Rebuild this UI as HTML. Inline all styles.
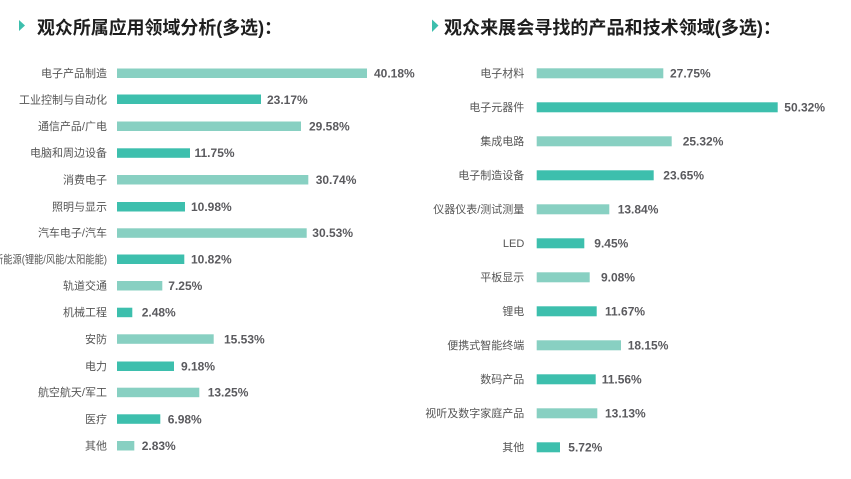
<!DOCTYPE html>
<html><head><meta charset="utf-8"><style>
html,body{margin:0;padding:0;background:#fff;}
svg{display:block;}
.t{font-family:"Liberation Sans","Noto Sans CJK SC",sans-serif;font-weight:bold;font-size:18px;fill:#1e1e1e;}
.l{font-family:"Liberation Sans","Noto Sans CJK SC",sans-serif;font-size:11px;fill:#555;}
.v{font-family:"Liberation Sans","Noto Sans CJK SC",sans-serif;font-size:12px;font-weight:bold;fill:#5a5a5e;}
.a{fill:#88d0c2;}
.b{fill:#3dbfad;}
</style></head><body>
<svg width="851" height="479" xmlns="http://www.w3.org/2000/svg">
<polygon points="19,20 25,25.5 19,31" fill="#3dbfad"/>
<text class="t" x="37" y="34" textLength="245" lengthAdjust="spacingAndGlyphs">观众所属应用领域分析(多选)：</text>
<polygon points="432,19.5 438.5,25.5 432,32" fill="#3dbfad"/>
<text class="t" x="444" y="34" textLength="337" lengthAdjust="spacingAndGlyphs">观众来展会寻找的产品和技术领域(多选)：</text>

<!-- left chart -->
<g>
<rect class="a" x="117" y="68.5" width="250" height="9.5"/><text class="l" x="107" y="77" text-anchor="end">电子产品制造</text><text class="v" x="374" y="77.5">40.18%</text>
<rect class="b" x="117" y="94.5" width="144" height="9.5"/><text class="l" x="107" y="103.5" text-anchor="end">工业控制与自动化</text><text class="v" x="267" y="104">23.17%</text>
<rect class="a" x="117" y="121.5" width="184" height="9.5"/><text class="l" x="107" y="130" text-anchor="end">通信产品/广电</text><text class="v" x="309" y="130.5">29.58%</text>
<rect class="b" x="117" y="148.3" width="73" height="9.5"/><text class="l" x="107" y="156.7" text-anchor="end">电脑和周边设备</text><text class="v" x="194.5" y="157.2">11.75%</text>
<rect class="a" x="117" y="175" width="191.3" height="9.5"/><text class="l" x="107" y="183.4" text-anchor="end">消费电子</text><text class="v" x="315.7" y="183.9">30.74%</text>
<rect class="b" x="117" y="202" width="68" height="9.5"/><text class="l" x="107" y="210.4" text-anchor="end">照明与显示</text><text class="v" x="191" y="210.9">10.98%</text>
<rect class="a" x="117" y="228.3" width="189.7" height="9.5"/><text class="l" x="107" y="236.7" text-anchor="end">汽车电子/汽车</text><text class="v" x="312.3" y="237.2">30.53%</text>
<rect class="b" x="117" y="254.5" width="67.3" height="9.5"/><text class="l" x="-6" y="263" textLength="113" lengthAdjust="spacingAndGlyphs">新能源(锂能/风能/太阳能能)</text><text class="v" x="191" y="263.5">10.82%</text>
<rect class="a" x="117" y="281" width="45.3" height="9.5"/><text class="l" x="107" y="289.5" text-anchor="end">轨道交通</text><text class="v" x="168.3" y="290">7.25%</text>
<rect class="b" x="117" y="307.7" width="15.3" height="9.5"/><text class="l" x="107" y="316.2" text-anchor="end">机械工程</text><text class="v" x="141.7" y="316.7">2.48%</text>
<rect class="a" x="117" y="334.3" width="96.7" height="9.5"/><text class="l" x="107" y="342.8" text-anchor="end">安防</text><text class="v" x="224" y="343.3">15.53%</text>
<rect class="b" x="117" y="361.5" width="57" height="9.5"/><text class="l" x="107" y="370" text-anchor="end">电力</text><text class="v" x="181" y="370.5">9.18%</text>
<rect class="a" x="117" y="387.7" width="82.3" height="9.5"/><text class="l" x="107" y="396.2" text-anchor="end">航空航天/军工</text><text class="v" x="207.7" y="396.7">13.25%</text>
<rect class="b" x="117" y="414.3" width="43.3" height="9.5"/><text class="l" x="107" y="422.8" text-anchor="end">医疗</text><text class="v" x="167.7" y="423.3">6.98%</text>
<rect class="a" x="117" y="441" width="17.3" height="9.5"/><text class="l" x="107" y="449.5" text-anchor="end">其他</text><text class="v" x="141.7" y="450">2.83%</text>
</g>

<!-- right chart -->
<g>
<rect class="a" x="536.7" y="68.3" width="126.6" height="10"/><text class="l" x="524.3" y="77.2" text-anchor="end">电子材料</text><text class="v" x="670" y="77.7">27.75%</text>
<rect class="b" x="536.7" y="102.3" width="241" height="10"/><text class="l" x="524.3" y="111.2" text-anchor="end">电子元器件</text><text class="v" x="784.3" y="111.7">50.32%</text>
<rect class="a" x="536.7" y="136.3" width="135" height="10"/><text class="l" x="524.3" y="145.2" text-anchor="end">集成电路</text><text class="v" x="682.7" y="145.7">25.32%</text>
<rect class="b" x="536.7" y="170.3" width="117" height="10"/><text class="l" x="524.3" y="179.2" text-anchor="end">电子制造设备</text><text class="v" x="663.3" y="179.7">23.65%</text>
<rect class="a" x="536.7" y="204.3" width="72.6" height="10"/><text class="l" x="524.3" y="213.2" text-anchor="end">仪器仪表/测试测量</text><text class="v" x="617.7" y="213.7">13.84%</text>
<rect class="b" x="536.7" y="238.3" width="47.6" height="10"/><text class="l" x="524.3" y="247.2" text-anchor="end">LED</text><text class="v" x="594.3" y="247.7">9.45%</text>
<rect class="a" x="536.7" y="272.3" width="53" height="10"/><text class="l" x="524.3" y="281.2" text-anchor="end">平板显示</text><text class="v" x="601" y="281.7">9.08%</text>
<rect class="b" x="536.7" y="306.3" width="60" height="10"/><text class="l" x="524.3" y="315.2" text-anchor="end">锂电</text><text class="v" x="605" y="315.7">11.67%</text>
<rect class="a" x="536.7" y="340.3" width="84.3" height="10"/><text class="l" x="524.3" y="349.2" text-anchor="end">便携式智能终端</text><text class="v" x="627.7" y="349.7">18.15%</text>
<rect class="b" x="536.7" y="374.3" width="59" height="10"/><text class="l" x="524.3" y="383.2" text-anchor="end">数码产品</text><text class="v" x="601.7" y="383.7">11.56%</text>
<rect class="a" x="536.7" y="408.3" width="60.6" height="10"/><text class="l" x="524.3" y="417.2" text-anchor="end">视听及数字家庭产品</text><text class="v" x="605" y="417.7">13.13%</text>
<rect class="b" x="536.7" y="442.3" width="23.3" height="10"/><text class="l" x="524.3" y="451.2" text-anchor="end">其他</text><text class="v" x="568.3" y="451.7">5.72%</text>
</g>
</svg>
</body></html>
